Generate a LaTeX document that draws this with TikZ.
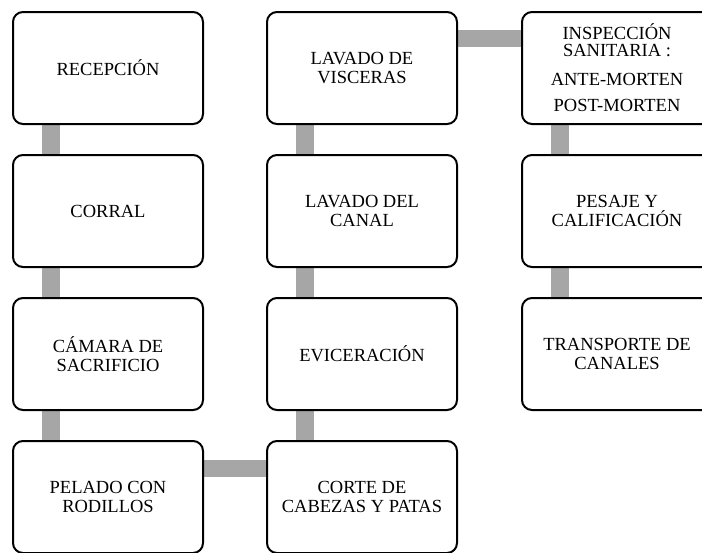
\documentclass[tikz,border=0pt]{standalone}
\usepackage{fontspec}
\setmainfont{Liberation Serif}
\usetikzlibrary{backgrounds}
\tikzset{
  box/.style={draw=black, line width=2pt, rounded corners=10pt, fill=white,
    minimum width=190pt, minimum height=112pt, inner sep=0pt, align=center,
    font=\fontsize{18.5}{18.3}\selectfont},
  conn/.style={draw=black!35, line width=17.5pt, line cap=butt}
}
\begin{document}
\begin{tikzpicture}[x=1pt,y=-1pt]
\useasboundingbox (0,0) rectangle (702,552);
\begin{scope}
\clip (0,0) rectangle (702,552);
\node[box] (recep) at (108,68) {RECEPCIÓN};
\node[box] (corral) at (108,211) {CORRAL};
\node[box] (camara) at (108,354) {CÁMARA DE\\SACRIFICIO};
\node[box] (pelado) at (108,497) {PELADO CON\\RODILLOS};
\node[box] (corte) at (362,497) {CORTE DE\\CABEZAS Y PATAS};
\node[box] (evis) at (362,354) {EVICERACIÓN};
\node[box] (lcanal) at (362,211) {LAVADO DEL\\CANAL};
\node[box] (lvisc) at (362,68) {LAVADO DE\\VISCERAS};
\node[box, font=\fontsize{18.5}{17}\selectfont] (insp) at (617,68) {INSPECCIÓN\\SANITARIA :\\[12pt]ANTE-MORTEN\\[9pt]POST-MORTEN};
\node[box] (pesaje) at (617,211) {PESAJE Y\\CALIFICACIÓN};
\node[box] (transp) at (617,354) {TRANSPORTE DE\\CANALES};
\begin{pgfonlayer}{background}
\draw[conn] ([xshift=-57pt]recep.south) -- ([xshift=-57pt]corral.north);
\draw[conn] ([xshift=-57pt]corral.south) -- ([xshift=-57pt]camara.north);
\draw[conn] ([xshift=-57pt]camara.south) -- ([xshift=-57pt]pelado.north);
\draw[conn] ([yshift=28.5pt]pelado.east) -- ([yshift=28.5pt]corte.west);
\draw[conn] ([xshift=-57pt]corte.north) -- ([xshift=-57pt]evis.south);
\draw[conn] ([xshift=-57pt]evis.north) -- ([xshift=-57pt]lcanal.south);
\draw[conn] ([xshift=-57pt]lcanal.north) -- ([xshift=-57pt]lvisc.south);
\draw[conn] ([yshift=29.5pt]lvisc.east) -- ([yshift=29.5pt]insp.west);
\draw[conn] ([xshift=-57pt]insp.south) -- ([xshift=-57pt]pesaje.north);
\draw[conn] ([xshift=-57pt]pesaje.south) -- ([xshift=-57pt]transp.north);
\end{pgfonlayer}
\end{scope}
\end{tikzpicture}
\end{document}
